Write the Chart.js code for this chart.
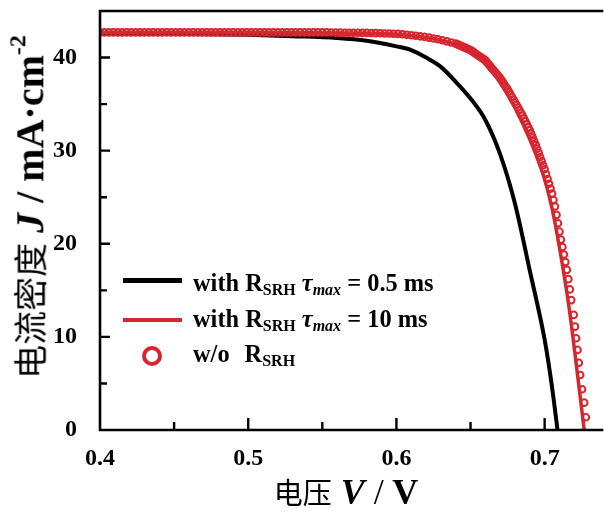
<!DOCTYPE html>
<html>
<head>
<meta charset="utf-8">
<script src="https://cdn.jsdelivr.net/npm/chart.js@4.4.1/dist/chart.umd.min.js"></script>
<style>
  body { margin: 0; background: #fff; }
  #wrap { position: relative; width: 604px; height: 520px; }
  .serif { font-family: 'Liberation Serif', 'Times New Roman', serif; font-weight: bold; color: #000; }
  .cjk { font-family: 'Noto Sans CJK SC', sans-serif; font-weight: 400; }
  #ytitle { position: absolute; left: 30px; top: 207px; transform: translate(-50%, -50%) rotate(-90deg); white-space: nowrap; line-height: 1; }
  #ytitle .cjk { font-size: 34px; }
  #ytitle .serif { font-size: 40px; }
  #ytitle sup { font-size: 24px; position: relative; top: -4px; }
  #xtitle { position: absolute; left: 346px; top: 492px; transform: translate(-50%, -50%); white-space: nowrap; line-height: 1; }
  #xtitle .cjk { font-size: 29px; }
  #xtitle .serif { font-size: 36px; }
  .row { position: absolute; left: 193px; white-space: nowrap; font-size: 24.4px; line-height: 24px; }
  .sb { font-size: 16px; position: relative; top: 4px; }
  .sw { position: absolute; }
</style>
</head>
<body>
<div id="wrap">
  <canvas id="chart" width="604" height="520"></canvas>

  <div id="ytitle"><span class="cjk">电流密度</span><span class="serif"> <i>J</i> / mA·cm<sup>-2</sup></span></div>
  <div id="xtitle"><span class="cjk">电压</span><span class="serif"> <i>V</i> <span style="font-weight:normal">/</span> V</span></div>

  <div class="sw" style="left:123px;top:278px;width:59px;height:5px;background:#000"></div>
  <div class="row serif" style="top:271px">with R<span class="sb">SRH</span> <i>τ<span class="sb">max</span></i> = 0.5 ms</div>
  <div class="sw" style="left:123px;top:317.5px;width:59px;height:4px;background:#d7262f"></div>
  <div class="row serif" style="top:307px">with R<span class="sb">SRH</span> <i>τ<span class="sb">max</span></i> = 10 ms</div>
  <div class="sw" style="left:142px;top:346px;width:20px;height:20px;box-sizing:border-box;border:4px solid #d7262f;border-radius:50%"></div>
  <div class="row serif" style="top:342px">w/o<span style="margin-left:15px">R</span><span class="sb">SRH</span></div>
</div>

<script>
// axis ticks
const xTicks = [0.4, 0.5, 0.6, 0.7];
const xMinor = [0.45, 0.55, 0.65];
const yTicks = [0, 10, 20, 30, 40];
const yMinor = [5, 15, 25, 35];

// with R_SRH, tau_max = 0.5 ms (black)
const blackV = [0.40, 0.45, 0.50, 0.53, 0.56, 0.58, 0.60, 0.61, 0.62, 0.63, 0.64, 0.65, 0.66, 0.67, 0.68, 0.69, 0.70, 0.705, 0.7087];
const blackJ = [42.6, 42.55, 42.45, 42.3, 42.1, 41.8, 41.2, 40.8, 40.0, 39.0, 37.4, 35.6, 33.3, 29.6, 24.3, 17.1, 9.7, 4.6, 0];

// with R_SRH, tau_max = 10 ms (red line)
const redV = [0.40, 0.50, 0.55, 0.58, 0.60, 0.62, 0.63, 0.64, 0.65, 0.66, 0.67, 0.68, 0.69, 0.70, 0.705, 0.71, 0.7167, 0.7218, 0.7267];
const redJ = [42.7, 42.7, 42.65, 42.6, 42.5, 42.15, 41.85, 41.4, 40.6, 39.4, 37.3, 34.6, 31.2, 26.9, 23.8, 19.6, 12.9, 6.45, 0];

// w/o R_SRH (open circles)
const openV = [
  0.400, 0.403, 0.406, 0.409, 0.412, 0.415, 0.418, 0.421, 0.424, 0.427,
  0.430, 0.433, 0.436, 0.439, 0.442, 0.445, 0.448, 0.451, 0.454, 0.457,
  0.460, 0.463, 0.466, 0.469, 0.472, 0.475, 0.478, 0.481, 0.484, 0.487,
  0.490, 0.493, 0.496, 0.499, 0.502, 0.505, 0.508, 0.511, 0.514, 0.517,
  0.520, 0.523, 0.526, 0.529, 0.532, 0.535, 0.538, 0.541, 0.544, 0.547,
  0.550, 0.553, 0.556, 0.559, 0.562, 0.565, 0.568, 0.571, 0.574, 0.577,
  0.580, 0.583, 0.586, 0.589, 0.592, 0.595, 0.598, 0.601, 0.604, 0.607,
  0.610, 0.613, 0.616, 0.619, 0.622, 0.625, 0.628, 0.631, 0.634, 0.637,
  0.640, 0.641, 0.642, 0.643, 0.644, 0.645, 0.646, 0.647, 0.648, 0.649,
  0.650, 0.651, 0.652, 0.653, 0.654, 0.655, 0.656, 0.657, 0.658, 0.659,
  0.660, 0.661, 0.662, 0.663, 0.664, 0.665, 0.666, 0.667, 0.668, 0.669,
  0.670, 0.671, 0.672, 0.673, 0.674, 0.675, 0.676, 0.677, 0.678, 0.679,
  0.680, 0.681, 0.682, 0.683, 0.684, 0.685, 0.686, 0.687, 0.688, 0.689,
  0.690, 0.691, 0.692, 0.693, 0.694, 0.695, 0.696, 0.697, 0.698, 0.699,
  0.700, 0.701, 0.702, 0.703, 0.704, 0.705, 0.706, 0.707, 0.708, 0.709,
  0.710, 0.711, 0.712, 0.713, 0.714, 0.715, 0.716, 0.717, 0.718, 0.7196,
  0.7205, 0.7213, 0.7222, 0.7231, 0.7240, 0.7253, 0.7267, 0.7278
];
const openJ = [
  42.7, 42.7, 42.7, 42.7, 42.7, 42.7, 42.7, 42.7, 42.7, 42.7,
  42.7, 42.7, 42.7, 42.7, 42.7, 42.7, 42.7, 42.7, 42.7, 42.7,
  42.7, 42.7, 42.7, 42.7, 42.7, 42.7, 42.7, 42.7, 42.7, 42.7,
  42.7, 42.7, 42.7, 42.7, 42.7, 42.7, 42.7, 42.7, 42.7, 42.7,
  42.7, 42.7, 42.7, 42.7, 42.7, 42.7, 42.7, 42.7, 42.7, 42.7,
  42.70, 42.70, 42.69, 42.68, 42.68, 42.67, 42.67, 42.66, 42.66, 42.65,
  42.65, 42.64, 42.62, 42.61, 42.59, 42.58, 42.56, 42.54, 42.50, 42.45,
  42.40, 42.34, 42.28, 42.22, 42.14, 42.05, 41.96, 41.86, 41.74, 41.62,
  41.50, 41.43, 41.36, 41.29, 41.22, 41.15, 41.08, 41.01, 40.94, 40.87,
  40.80, 40.69, 40.58, 40.47, 40.36, 40.25, 40.14, 40.03, 39.92, 39.81,
  39.70, 39.51, 39.32, 39.13, 38.94, 38.75, 38.56, 38.37, 38.18, 37.99,
  37.80, 37.56, 37.32, 37.08, 36.84, 36.60, 36.32, 36.04, 35.76, 35.48,
  35.20, 34.92, 34.64, 34.36, 34.08, 33.80, 33.48, 33.16, 32.84, 32.52,
  32.20, 31.80, 31.40, 31.00, 30.60, 30.20, 29.76, 29.32, 28.88, 28.44,
  28.00, 27.48, 26.96, 26.44, 25.92, 25.40, 24.70, 24.00, 23.10, 22.20,
  21.30, 20.45, 19.65, 18.85, 18.05, 17.20, 16.20, 15.10, 13.95, 12.36,
  11.10, 9.85, 8.60, 7.23, 5.91, 4.37, 2.94, 1.37
];

const RED = '#d7262f';
const SERIF = "'Liberation Serif', 'Times New Roman', serif";

const pts = (xs, ys) => xs.map((v, i) => ({ x: v, y: ys[i] }));

// frame on three sides plus inward ticks
const frame = {
  id: 'frame',
  afterDraw(chart) {
    const { ctx, chartArea: a, scales: { x, y } } = chart;
    ctx.save();
    ctx.strokeStyle = '#000';
    ctx.lineWidth = 2.6;
    ctx.lineCap = 'square';
    ctx.beginPath();
    ctx.moveTo(a.right + 4, a.top);
    ctx.lineTo(a.left, a.top);
    ctx.lineTo(a.left, a.bottom);
    ctx.lineTo(a.right + 4, a.bottom);
    ctx.stroke();
    ctx.lineCap = 'butt';
    ctx.lineWidth = 2.4;
    ctx.beginPath();
    xTicks.slice(1).forEach(v => { const px = x.getPixelForValue(v); ctx.moveTo(px, a.bottom); ctx.lineTo(px, a.bottom - 12); });
    xMinor.forEach(v => { const px = x.getPixelForValue(v); ctx.moveTo(px, a.bottom); ctx.lineTo(px, a.bottom - 8); });
    yTicks.slice(1).forEach(v => { const py = y.getPixelForValue(v); ctx.moveTo(a.left, py); ctx.lineTo(a.left + 10, py); });
    yMinor.forEach(v => { const py = y.getPixelForValue(v); ctx.moveTo(a.left, py); ctx.lineTo(a.left + 7, py); });
    ctx.stroke();
    ctx.restore();
  }
};

new Chart(document.getElementById('chart'), {
  type: 'line',
  data: {
    datasets: [
      {
        label: 'w/o R_SRH',
        data: pts(openV, openJ),
        showLine: false,
        pointStyle: 'circle',
        pointRadius: 3.3,
        pointBorderWidth: 2,
        pointBorderColor: RED,
        pointBackgroundColor: 'rgba(0,0,0,0)',
        borderColor: RED
      },
      {
        label: 'with R_SRH tau_max = 10 ms',
        data: pts(redV, redJ),
        borderColor: RED,
        borderWidth: 3.5,
        pointRadius: 0,
        cubicInterpolationMode: 'monotone'
      },
      {
        label: 'with R_SRH tau_max = 0.5 ms',
        data: pts(blackV, blackJ),
        borderColor: '#000',
        borderWidth: 4,
        pointRadius: 0,
        cubicInterpolationMode: 'monotone'
      }
    ]
  },
  options: {
    responsive: false,
    devicePixelRatio: 1,
    animation: false,
    layout: { padding: { top: 11, right: 0, bottom: 0, left: 0 } },
    plugins: { legend: { display: false }, tooltip: { enabled: false } },
    scales: {
      x: {
        type: 'linear',
        min: 0.4,
        max: 0.736,
        afterBuildTicks: s => { s.ticks = xTicks.map(v => ({ value: v })); },
        afterFit: s => { s.height = 90; s.paddingLeft = 0; s.paddingRight = 0; },
        grid: { display: false },
        border: { display: false },
        ticks: {
          color: '#000',
          font: { family: SERIF, size: 24, weight: 'bold' },
          padding: 6,
          maxRotation: 0,
          autoSkip: false,
          callback: v => v.toFixed(1)
        }
      },
      y: {
        type: 'linear',
        min: 0,
        max: 45,
        afterBuildTicks: s => { s.ticks = yTicks.map(v => ({ value: v })); },
        afterFit: s => { s.width = 100; s.paddingTop = 0; s.paddingBottom = 0; },
        grid: { display: false },
        border: { display: false },
        ticks: {
          color: '#000',
          font: { family: SERIF, size: 24, weight: 'bold' },
          padding: 15
        }
      }
    }
  },
  plugins: [frame]
});
</script>
</body>
</html>
